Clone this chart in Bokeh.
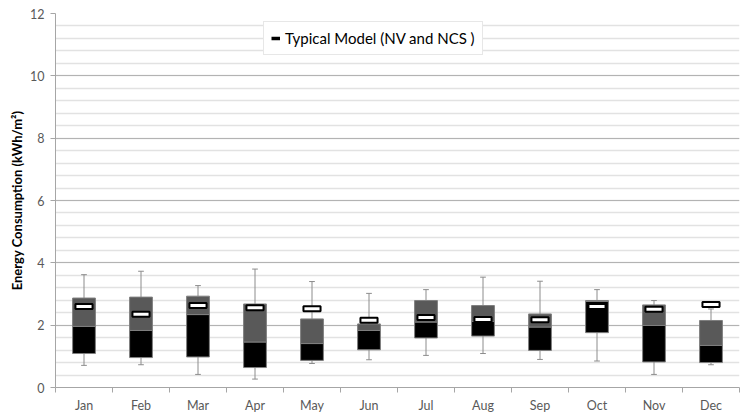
import numpy as np
from bokeh.plotting import figure
from bokeh.models import FixedTicker, Legend, LegendItem, Range1d, ColumnDataSource
from bokeh.embed import file_html
from bokeh.resources import INLINE

months = ["Jan", "Feb", "Mar", "Apr", "May", "Jun", "Jul", "Aug", "Sep", "Oct", "Nov", "Dec"]
whisker_low = [0.71, 0.73, 0.42, 0.27, 0.77, 0.89, 1.03, 1.09, 0.90, 0.85, 0.42, 0.73]
q1 = [1.09, 0.96, 0.98, 0.64, 0.87, 1.21, 1.59, 1.65, 1.19, 1.76, 0.82, 0.80]
median = [1.96, 1.83, 2.34, 1.46, 1.41, 1.83, 2.10, 2.12, 1.94, 2.76, 1.99, 1.35]
q3 = [2.87, 2.90, 2.93, 2.68, 2.20, 2.04, 2.79, 2.63, 2.36, 2.79, 2.65, 2.15]
whisker_high = [3.62, 3.73, 3.27, 3.80, 3.40, 3.02, 3.14, 3.54, 3.41, 3.14, 2.79, 2.52]
typical = [2.60, 2.35, 2.63, 2.56, 2.53, 2.16, 2.25, 2.18, 2.17, 2.60, 2.51, 2.66]
y_ticks = [0, 2, 4, 6, 8, 10, 12]

FONT = "Lato"
x = np.arange(len(months)) + 0.5
src = ColumnDataSource(dict(
    x=x, x0=x - 0.05, x1=x + 0.05, wl=whisker_low, q1=q1, med=median, q3=q3,
    wh=whisker_high, typ=typical))

p = figure(width=740, height=415, output_backend="svg", toolbar_location=None,
           x_range=Range1d(0, 12), y_range=Range1d(0, 12),
           min_border_left=55, min_border_right=1, min_border_top=13, min_border_bottom=26)
p.outline_line_color = None
p.background_fill_color = "white"

# grid
p.xgrid.grid_line_color = None
p.ygrid.grid_line_color = "#b3b3b3"
p.ygrid.minor_grid_line_color = "#e2e2e2"
p.ygrid.minor_grid_line_width = 1.5

p.yaxis.ticker = FixedTicker(ticks=y_ticks, minor_ticks=list(np.round(np.arange(0, 12.01, 0.4), 2)))
p.yaxis.major_tick_out = 5
p.yaxis.major_tick_in = 0
p.yaxis.minor_tick_out = 0
p.yaxis.minor_tick_in = 0
p.yaxis.axis_line_color = "#a6a6a6"
p.yaxis.major_tick_line_color = "#a6a6a6"
p.yaxis.major_label_text_font = FONT
p.yaxis.major_label_text_font_size = "12.5px"
p.yaxis.major_label_text_color = "#595959"
p.yaxis.major_label_standoff = 6
p.yaxis.axis_label = "Energy Consumption (kWh/m\u00b2)"
p.yaxis.axis_label_text_font = FONT
p.yaxis.axis_label_text_font_style = "bold"
p.yaxis.axis_label_text_font_size = "13px"
p.yaxis.axis_label_text_color = "#000000"
p.yaxis.axis_label_standoff = 2

p.xaxis.ticker = FixedTicker(ticks=list(x), minor_ticks=list(range(0, 13)))
p.xaxis.major_label_overrides = {float(xx): m for xx, m in zip(x, months)}
p.xaxis.major_tick_line_color = None
p.xaxis.major_tick_out = 0
p.xaxis.major_tick_in = 0
p.xaxis.minor_tick_out = 5
p.xaxis.minor_tick_in = 0
p.xaxis.minor_tick_line_color = "#a6a6a6"
p.xaxis.axis_line_color = "#a6a6a6"
p.xaxis.major_label_text_font = FONT
p.xaxis.major_label_text_font_size = "12.5px"
p.xaxis.major_label_text_color = "#595959"
p.xaxis.major_label_text_line_height = 0.8
p.xaxis.major_label_standoff = 5

# whiskers
wc = "#8c8c8c"
p.segment(x0="x", y0="wl", x1="x", y1="q1", source=src, line_color=wc, line_width=1)
p.segment(x0="x", y0="q3", x1="x", y1="wh", source=src, line_color=wc, line_width=1)
p.segment(x0="x0", y0="wl", x1="x1", y1="wl", source=src, line_color=wc, line_width=1)
p.segment(x0="x0", y0="wh", x1="x1", y1="wh", source=src, line_color=wc, line_width=1)

# boxes
p.vbar(x="x", width=0.4, bottom="q1", top="med", source=src,
       fill_color="#000000", line_color="#7f7f7f", line_width=1)
p.vbar(x="x", width=0.4, bottom="med", top="q3", source=src,
       fill_color="#595959", line_color="#7f7f7f", line_width=1)

# typical model markers
p.rect(x="x", y="typ", width=0.3, height=5, height_units="screen", source=src,
       fill_color="white", line_color="black", line_width=2)

dummy = p.line(x=[np.nan], y=[np.nan], line_color="black", line_width=3.5)
legend = Legend(items=[LegendItem(label="Typical Model (NV and NCS )", renderers=[dummy])],
                location=(208, 332), orientation="horizontal")
legend.label_text_font = FONT
legend.label_text_font_size = "15px"
legend.label_text_color = "#000000"
legend.glyph_width = 9
legend.glyph_height = 14
legend.label_standoff = 5
legend.padding = 7
legend.margin = 0
legend.border_line_color = "#d0d0d0"
legend.background_fill_color = "white"
legend.background_fill_alpha = 1
legend.spacing = 0
p.add_layout(legend, "center")

open("out.html", "w").write(file_html(p, INLINE))
